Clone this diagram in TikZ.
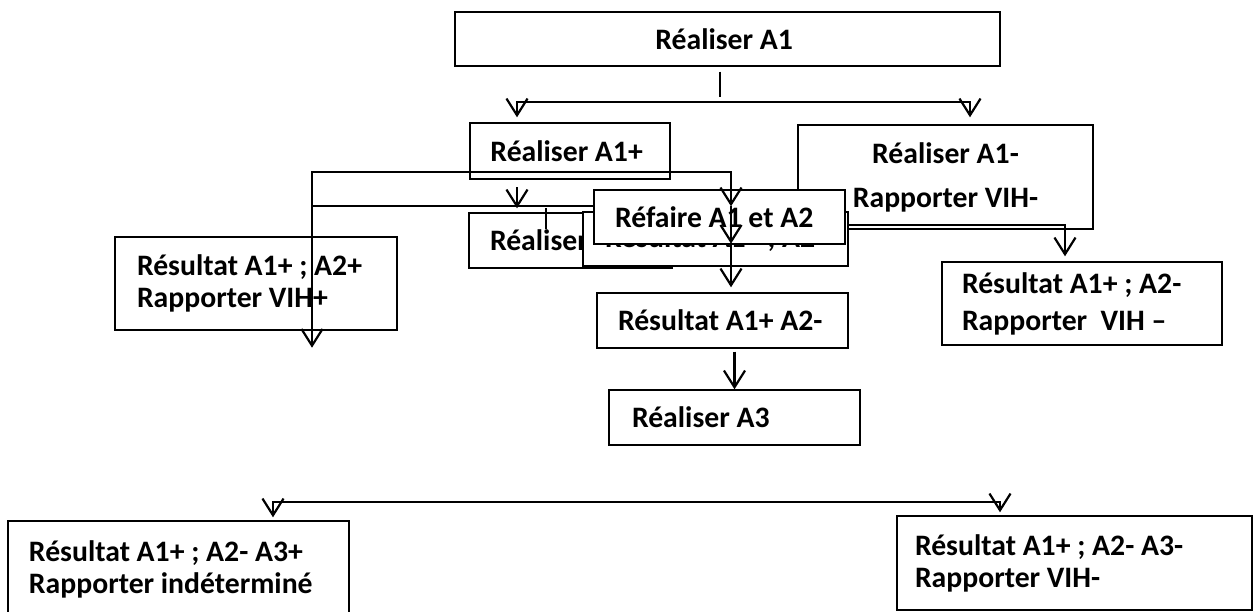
\documentclass[tikz,border=0pt]{standalone}
\usepackage{fontspec}
\setmainfont{Carlito}
\usetikzlibrary{calc,arrows.meta}
\tikzset{>={Straight Barb[length=9.5pt,width=12pt]}}

\begin{document}
\begin{tikzpicture}

%% styles
\tikzstyle{etape}=[draw, fill=white, line width=0.8pt, inner sep=0pt, align=center, font=\fontsize{16.9}{18.2}\selectfont\bfseries]

\tikzstyle{etapeg}=[etape, align=flush left]

\tikzstyle{lien}=[line width=1.25pt]

\tikzstyle{fleche}=[lien, ->]

\useasboundingbox (0,0) rectangle (25.1,-12.24);

%% boxes
\node(A1)[style=etape, minimum width=10.9cm, minimum height=1.08cm] at (14.55,-0.78)
{
Réaliser A1
};

\node(A1p)[style=etape, minimum width=4cm, minimum height=1.12cm] at (11.4,-3.02)
{
Réaliser A1+
};

\node(A1m)[style=etape, minimum width=5.9cm, minimum height=2.08cm] at (18.91,-3.54)
{
Réaliser A1-\\[6.8pt]Rapporter VIH-
};

\node(Rpp)[style=etapeg, text width=4.76cm, inner xsep=0.44cm, minimum height=1.86cm] at (5.12,-5.67)
{
Résultat A1+ ; A2+\\Rapporter VIH+
};

\node(A2)[style=etapeg, text width=3.22cm, inner xsep=0.42cm, minimum height=1.1cm] at (11.41,-4.81)
{
Réaliser A2
};

\node(R12)[style=etapeg, text width=4.42cm, inner xsep=0.44cm, minimum height=1.08cm] at (14.31,-4.78)
{
Résultat A1+ ; A2
};

\node(Refaire)[style=etapeg, text width=4.18cm, inner xsep=0.42cm, minimum height=1.08cm] at (14.39,-4.34)
{
Réfaire A1 et A2
};

\node(Rpm)[style=etapeg, text width=4.18cm, inner xsep=0.42cm, minimum height=1.1cm] at (14.45,-6.41)
{
Résultat A1+ A2-
};

\node(A3)[style=etapeg, text width=4.1cm, inner xsep=0.46cm, minimum height=1.1cm] at (14.69,-8.35)
{
Réaliser A3
};

\node(Rpmr)[style=etapeg, text width=4.8cm, inner xsep=0.4cm, minimum height=1.66cm] at (21.64,-6.07)
{
Résultat A1+ ; A2-\\[2.8pt]Rapporter~ VIH –
};

\node(Rpmp)[style=etapeg, text width=5.98cm, inner xsep=0.42cm, minimum height=1.94cm] at (3.57,-11.39)
{
Résultat A1+ ; A2- A3+\\Rapporter indéterminé
};

\node(Rpmm)[style=etapeg, text width=6.38cm, inner xsep=0.36cm, minimum height=1.88cm] at (21.49,-11.26)
{
Résultat A1+ ; A2- A3-\\Rapporter VIH-
};

%% arrows

\coordinate (split) at (14.4,-2.04);
\coordinate (pl) at (6.24,-3.44);
\coordinate (pr) at (14.62,-3.44);
\coordinate (retour) at ($(Refaire.west)+(0,0.22)$);
\coordinate (forkL) at (5.46,-10.04);
\coordinate (forkR) at (20.0,-10.04);

\draw[lien] ($(A1.south -| split)+(0,-0.1)$) -- ($(split)+(0,0.1)$);
\draw[lien, <->] ($(A1p.north)+(-1.06,0.1)$) |- (split) -| ($(A1m.north)+(0.49,0.14)$);

\draw[lien, <->] ($(pl |- Rpp.south)+(0,-0.34)$) -- (pl) -- (pr) -- ($(pr |- Refaire.north)+(0,-0.34)$);
\draw[fleche] ($(pr |- Refaire.north)+(0,-0.34)$) -- ($(pr |- Refaire.south)+(0,0.02)$);
\draw[fleche] ($(pr |- Refaire.south)+(0,0.02)$) -- ($(pr |- Rpm.north)+(0,0.1)$);

\draw[lien] (pl |- retour) -- (retour);
\draw[fleche] ($(A2.north)+(-1.07,0.5)$) -- ($(A2.north)+(-1.07,0.08)$);
\draw[lien] ($(A2.north)+(-0.49,0.08)$) -- ++(0,-0.42);

\draw[fleche] ($(R12.east)+(0,0.28)$) -| ($(Rpmr.north)+(-0.34,0.1)$);
\draw[fleche] ($(Rpm.south -| A3.north)+(0,-0.06)$) -- (A3.north);

\draw[lien, <->] ($(forkL |- Rpmp.north)+(0,0.06)$) -- (forkL) -- (forkR) -- ($(forkR |- Rpmm.north)+(0,0.06)$);

\end{tikzpicture}
\end{document}
